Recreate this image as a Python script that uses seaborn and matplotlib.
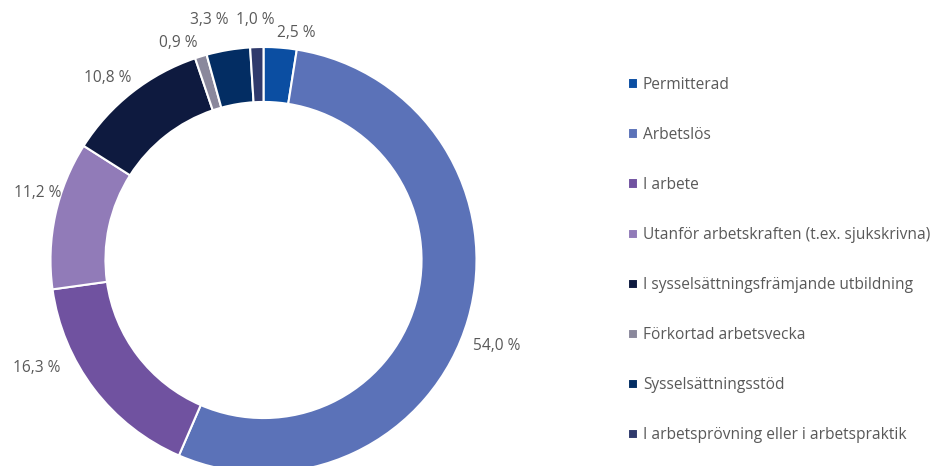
import numpy as np
import seaborn as sns
import matplotlib.pyplot as plt

# Data
categories = [
    "Permitterad",
    "Arbetslös",
    "I arbete",
    "Utanför arbetskraften (t.ex. sjukskrivna)",
    "I sysselsättningsfrämjande utbildning",
    "Förkortad arbetsvecka",
    "Sysselsättningsstöd",
    "I arbetsprövning eller i arbetspraktik",
]
shares = [2.5, 54.0, 16.3, 11.2, 10.8, 0.9, 3.3, 1.0]

colors = ["#0b4ea2", "#5b72b8", "#7052a0", "#917bb8",
          "#0e1a3f", "#8a889c", "#032d63", "#2f3a6c"]

# label nudges (pixels) from the default outside position
nudges = [(13, -21), (-6, -16), (-28, 43), (18, 14),
          (-2, -14), (-12, -21), (-13, -6), (0, -9)]

sns.set_theme(style="white")
plt.rcParams['font.family'] = ['Open Sans', 'DejaVu Sans']

fig = plt.figure(figsize=(9.35, 4.66), dpi=100)
ax = fig.add_axes([0, 0, 1, 1])

R = 213.0
cx, cy = 263.5, 260.0

wedges, _ = ax.pie(shares, colors=colors, startangle=90, counterclock=False,
                   radius=1.0, center=(0, 0),
                   wedgeprops=dict(width=0.258, edgecolor='white', linewidth=1.5))
ax.set_xlim(-cx / R, (935 - cx) / R)
ax.set_ylim(-(466 - cy) / R, cy / R)
ax.set_aspect('equal')
ax.axis('off')

# percentage labels outside the ring
cum = np.cumsum(shares) - np.array(shares) / 2
for val, mid, (dx, dy) in zip(shares, cum, nudges):
    theta = np.deg2rad(mid / 100 * 360)
    x, y = 1.17 * np.sin(theta), 1.17 * np.cos(theta)
    ax.annotate(f"{val:.1f} %".replace('.', ','), xy=(x, y),
                xytext=(dx, dy), textcoords='offset pixels',
                ha='center', va='center', fontsize=11.2, color='#595959')

ax.legend(wedges, categories, loc='upper left',
          bbox_to_anchor=(628 / 935, 1 - 77 / 466), bbox_transform=fig.transFigure,
          frameon=False, fontsize=11.2, labelcolor='#595959',
          handlelength=0.65, handleheight=0.65, handletextpad=0.3,
          labelspacing=2.19, borderpad=0, borderaxespad=0)

fig.savefig('out.png', dpi=100)
